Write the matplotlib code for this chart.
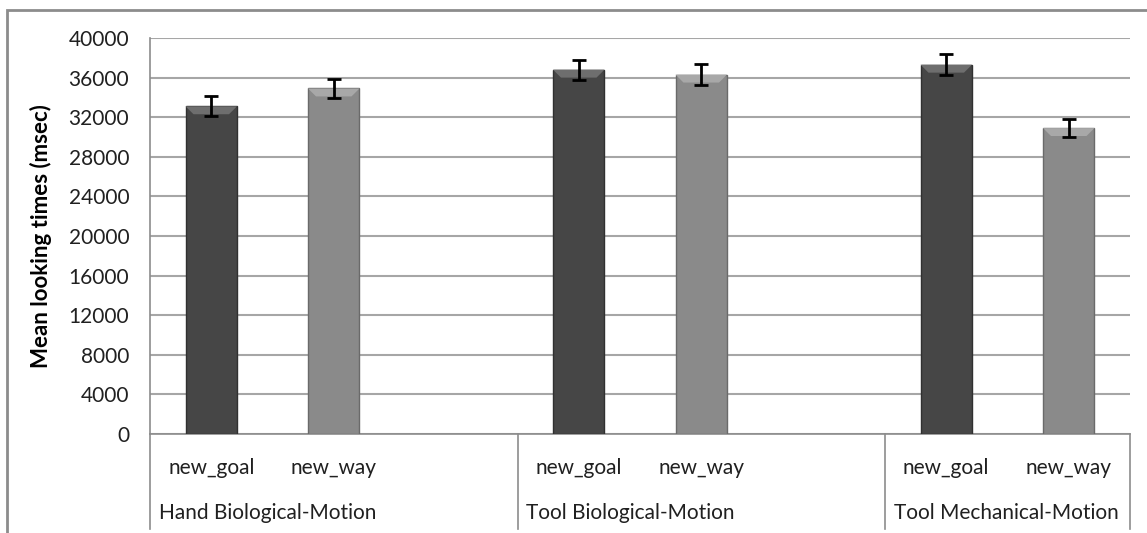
import numpy as np
import matplotlib.pyplot as plt
from matplotlib.patches import Polygon, Rectangle
from matplotlib.transforms import blended_transform_factory

plt.rcParams['font.family'] = ['Lato', 'DejaVu Sans']

# data
groups = ['Hand Biological-Motion', 'Tool Biological-Motion', 'Tool Mechanical-Motion']
conditions = ['new_goal', 'new_way', 'new_goal', 'new_way', 'new_goal', 'new_way']
slots = [0, 1, 3, 4, 6, 7]          # excel category slots (2 and 5 are empty)
group_start = [0, 3, 6]
means = [33100, 34900, 36800, 36300, 37300, 30900]
errors = [1000, 1000, 1000, 1050, 1050, 950]
yticks = list(range(0, 40001, 4000))

face = ['#464646', '#8a8a8a'] * 3
bevel = ['#6e6e6e', '#a8a8a8'] * 3
edge = ['#303030', '#6a6a6a'] * 3

fig = plt.figure(figsize=(11.47, 5.33), dpi=100)
# outer chart border like the excel chart area
fig.patches.append(Rectangle((7 / 1147, -0.05), 1.1, 1 - 10 / 533 + 0.05, transform=fig.transFigure,
                             fill=False, edgecolor='#8c8c8c', lw=2))
ax = fig.add_axes([150 / 1147, 99 / 533, 980 / 1147, 396 / 533])

x = np.array(slots) + 0.5
width = 0.42
ax.bar(x, means, width=width, color=face, edgecolor=edge, lw=1, zorder=3)

# bevel on the top of each bar
bh = 800
inset = 0.065
for xi, m, c in zip(x, means, bevel):
    poly = Polygon([(xi - width / 2, m), (xi + width / 2, m),
                    (xi + width / 2 - inset, m - bh), (xi - width / 2 + inset, m - bh)],
                   closed=True, facecolor=c, edgecolor='none', zorder=4)
    ax.add_patch(poly)

ax.errorbar(x, means, yerr=errors, fmt='none', ecolor='black', elinewidth=2,
            capsize=5, capthick=2, zorder=5)

ax.set_xlim(0, 8)
ax.set_ylim(0, 40000)
ax.set_yticks(yticks)
ax.set_yticklabels([str(t) for t in yticks], fontsize=15, color='#202020')
ax.tick_params(axis='y', length=0, pad=15)
ax.set_xticks([])
ax.yaxis.grid(True, color='#a6a6a6', lw=1.5, zorder=0)
ax.set_axisbelow(True)
for s in ['top', 'right']:
    ax.spines[s].set_visible(False)
ax.spines['left'].set_color('#8c8c8c')
ax.spines['bottom'].set_color('#8c8c8c')
ax.spines['left'].set_linewidth(1.2)
ax.spines['bottom'].set_linewidth(1.2)

ax.set_ylabel('Mean looking times (msec)', fontsize=16, fontweight='bold', labelpad=12)

# multi-level category axis
trans = blended_transform_factory(ax.transData, ax.transAxes)
for xi, lab in zip(x, conditions):
    ax.text(xi, -0.085, lab, transform=trans, ha='center', va='center', fontsize=15, color='#202020')
for g, xs in zip(groups, group_start):
    ax.text(xs + 0.07, -0.2, g, transform=trans, ha='left', va='center', fontsize=15, color='#202020')
for xs in [0, 3, 6, 8]:
    ax.plot([xs, xs], [0, -0.24], transform=trans, color='#8c8c8c', lw=1.2, clip_on=False)

fig.savefig('out.png', dpi=100)
